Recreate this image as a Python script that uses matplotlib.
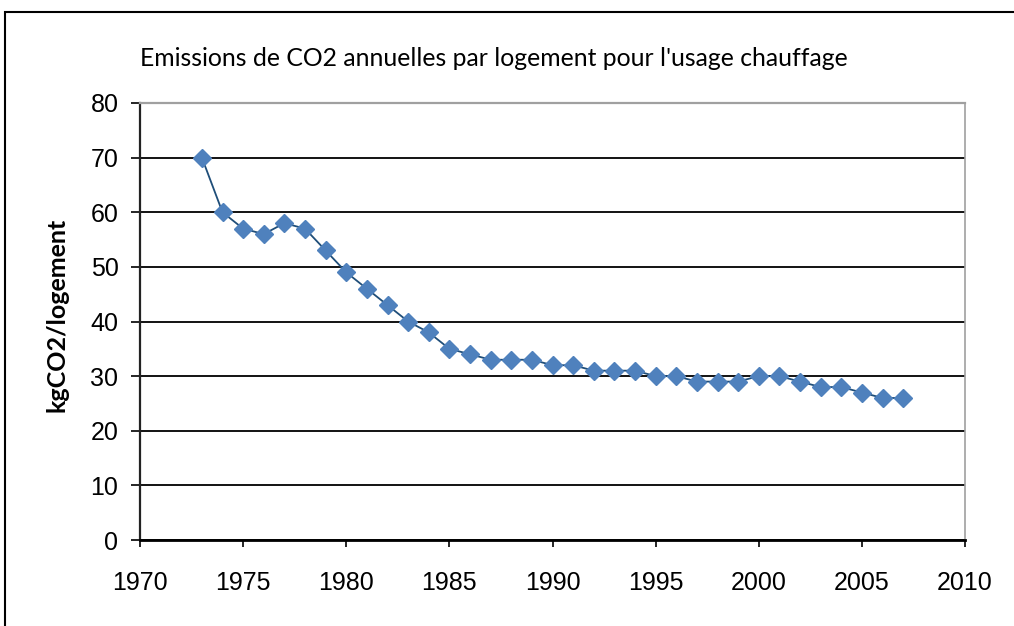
import matplotlib
matplotlib.use("Agg")
import matplotlib.pyplot as plt
from matplotlib.patches import Rectangle

years = list(range(1973, 2008))
emissions = [70, 60, 57, 56, 58, 57, 53, 49, 46, 43, 40, 38, 35, 34, 33, 33, 33,
             32, 32, 31, 31, 31, 30, 30, 29, 29, 29, 30, 30, 29, 28, 28, 27, 26, 26]
title = "Emissions de CO2 annuelles par logement pour l'usage chauffage"
ylabel = "kgCO2/logement"

plt.rcParams['font.family'] = ['Liberation Sans', 'DejaVu Sans']

fig = plt.figure(figsize=(10.14, 6.26), dpi=100)
ax = fig.add_axes([140/1014, 1-540/626, (965-140)/1014, (540-103)/626])

ax.plot(years, emissions, color='#1F4E79', linewidth=1.3, marker='D',
        markersize=9, markerfacecolor='#4F81BD', markeredgecolor='#4F81BD', zorder=3)

ax.set_xlim(1970, 2010)
ax.set_ylim(0, 80)
ax.set_xticks(range(1970, 2011, 5))
ax.set_yticks(range(0, 81, 10))
ax.yaxis.grid(True, color='black', linewidth=1.3)
ax.set_axisbelow(True)
ax.tick_params(axis='both', labelsize=18, direction='out', width=1.2, color='black')
ax.tick_params(axis='x', pad=17, length=5)
ax.tick_params(axis='y', pad=9, length=6.5)

ax.spines['top'].set_color('#A0A0A0')
ax.spines['top'].set_linewidth(1.6)
ax.spines['right'].set_color('#A0A0A0')
ax.spines['right'].set_linewidth(1.2)
ax.spines['left'].set_color('#222222')
ax.spines['left'].set_linewidth(1.6)
ax.spines['bottom'].set_color('black')
ax.spines['bottom'].set_linewidth(2)

ax.set_ylabel(ylabel, fontsize=18, fontweight='bold', family=['Lato', 'DejaVu Sans'])
ax.yaxis.set_label_coords(-0.087, 0.515)

fig.text(140/1014, 1-58/626, title, fontsize=17.8, family=['Lato', 'DejaVu Sans'],
         ha='left', va='center')

fig.patches.append(Rectangle((5/1014, -0.1), 1.2, 1-12/626+0.1, transform=fig.transFigure,
                             fill=False, edgecolor='black', linewidth=1.5))

fig.savefig('out.png', dpi=100)
